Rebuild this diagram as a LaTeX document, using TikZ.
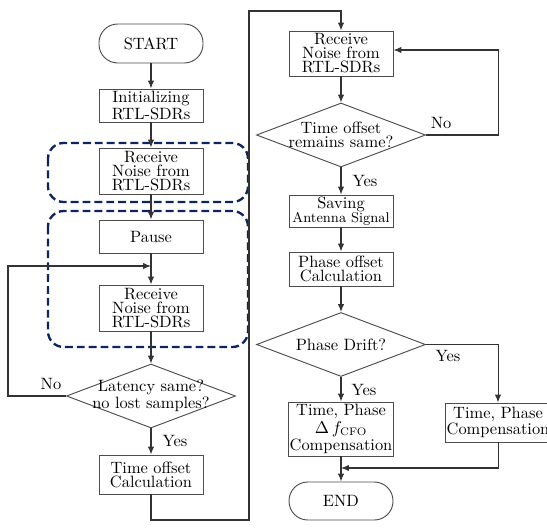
\documentclass[tikz,border=0pt]{standalone}
\usetikzlibrary{arrows.meta,shapes.geometric}
\definecolor{navyd}{RGB}{12,36,97}
\begin{document}
\begin{tikzpicture}[x=0.64pt,y=-0.64pt,
  every node/.style={font=\fontsize{10.5}{9}\selectfont},
  box/.style={draw=black!70, line width=0.6pt, rectangle, align=center, inner sep=1pt, minimum width=104*0.64pt},
  term/.style={draw=black!70, line width=0.6pt, rounded corners=12pt, minimum width=104*0.64pt, minimum height=39*0.64pt},
  dec/.style={draw=black!70, line width=0.6pt, diamond, minimum width=169*0.64pt, minimum height=64*0.64pt, inner sep=0pt},
  line/.style={draw=black!80, line width=0.65pt},
  arr/.style={line, -{Latex[length=5pt,width=4pt]}},
  grp/.style={draw=navyd, line width=1.5pt, dash pattern=on 5pt off 2.6pt, rounded corners=10pt},
  lab/.style={font=\fontsize{10.5}{12}\selectfont}
]
\useasboundingbox (0,0) rectangle (547,530);
% group frames
\draw[grp] (48,143) rectangle (248,202);
\draw[grp] (48,211) rectangle (248,347);
% left column
\node[term] (start) at (151,43.5) {START};
\node[box, minimum height=33*0.64pt] (init) at (151,105.5) {Initializing\\RTL-SDRs};
\node[box, minimum height=46*0.64pt] (recv1) at (151,171) {Receive\\Noise from\\RTL-SDRs};
\node[box, minimum height=33*0.64pt] (pause) at (151,236.5) {Pause};
\node[box, minimum height=46*0.64pt] (recv2) at (151,308) {Receive\\Noise from\\RTL-SDRs};
\node[dec, label={[align=center]center:Latency same?\\no lost samples?}] (d1) at (151,396) {};
\node[box, minimum height=39*0.64pt] (toff) at (151,474.5) {Time offset\\Calculation};
% right column
\node[box, minimum height=45*0.64pt] (recv3) at (341,53.5) {Receive\\Noise from\\RTL-SDRs};
\node[dec, label={[align=center]center:Time offset\\remains same?}] (d2) at (341,135) {};
\node[box, minimum height=32*0.64pt] (save) at (341,211) {Saving\\{\small Antenna Signal}};
\node[box, minimum height=34*0.64pt] (poff) at (341,269) {Phase offset\\Calculation};
\node[dec, label={[align=center]center:Phase Drift?}] (d3) at (341,344.5) {};
\node[box, minimum height=54*0.64pt, font=\fontsize{10.5}{11}\selectfont] (tpc) at (341,429) {Time, Phase\\$\Delta\, f_{\mathrm{CFO}}$\\Compensation};
\node[box, minimum height=39*0.64pt] (comp) at (498,422.5) {Time, Phase\\Compensation};
\node[term, minimum height=38*0.64pt] (end) at (341,501) {END};
% coordinates
\coordinate (j1) at (151,266);
\coordinate (n2) at (498,50);
\coordinate (j3) at (341,468);
% connectors left
\draw[arr] (start) -- (init);
\draw[arr] (init) -- (recv1);
\draw[arr] (recv1) -- (pause);
\draw[arr] (pause) -- (recv2);
\draw[arr] (recv2) -- (d1);
\draw[arr] (d1) -- (toff);
\draw[arr] (d1.west) -| (8,266) -- (j1);
\draw[arr] (toff.south) |- (249,520) |- (341,11) -- (recv3.north);
% connectors right
\draw[arr] (recv3) -- (d2);
\draw[arr] (d2.east) -| (n2) -- (recv3.east |- n2);
\draw[arr] (d2) -- (save);
\draw[arr] (save) -- (poff);
\draw[arr] (poff) -- (d3);
\draw[arr] (d3) -- (tpc);
\draw[arr] (d3.east) -| (comp.north);
\draw[arr] (comp.south) |- (j3);
\draw[arr] (tpc) -- (end);
% labels
\node[lab] (lno1) at (51,384) {No};
\node[lab] (lyes1) at (175,441) {Yes};
\node[lab] (lno2) at (441,123) {No};
\node[lab] (lyes2) at (365,181) {Yes};
\node[lab] (lyes3) at (448,356) {Yes};
\node[lab] (lyes4) at (364,390) {Yes};
\end{tikzpicture}
\end{document}
